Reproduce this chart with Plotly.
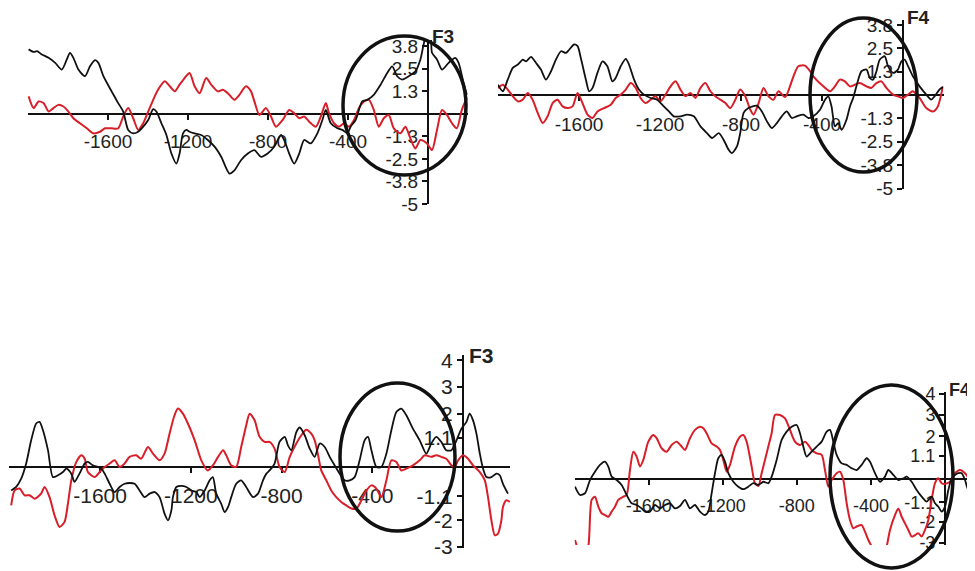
import plotly.graph_objects as go

# ---------------- data (time in ms, amplitude in µV) ----------------
p1_black_t = [-1997,-1972,-1955,-1931,-1897,-1864,-1831,-1806,-1790,-1773,-1748,-1715,-1690,-1665,-1648,-1623,-1582,-1549,-1524,-1499,-1474,-1449,-1424,-1399,-1374,-1358,-1333,-1308,-1283,-1258,-1242,-1225,-1208,-1192,-1167,-1134,-1101,-1067,-1034,-993,-968,-935,-901,-868,-835,-802,-769,-735,-719,-694,-669,-644,-619,-586,-553,-528,-511,-486,-453,-428,-403,-387,-362,-329,-304,-271,-237,-204,-179,-154,-129,-96,-63,-38,-22,-8,12,20,45,70,103,136,153,178,194]
p1_black_v = [3.58,3.44,3.48,3.30,3.11,2.83,2.46,3.02,3.39,3.11,2.46,2.09,2.64,2.98,2.83,2.09,1.25,0.60,0.13,-0.89,-1.08,-0.99,-0.71,-0.34,0.26,0.13,-0.52,-1.17,-2.20,-2.76,-2.20,-1.08,-0.89,-0.99,-1.08,-1.17,-1.45,-1.82,-2.38,-3.31,-3.13,-2.57,-2.20,-2.01,-2.38,-2.20,-1.82,-1.17,-1.45,-2.20,-2.76,-2.20,-1.45,-1.64,-1.08,-0.34,0.22,-0.52,-0.80,-0.89,-1.08,-0.71,-0.34,0.69,0.78,1.06,1.62,2.27,2.64,2.09,1.90,2.09,2.36,3.02,3.85,4.4,4.3,3.39,3.02,2.46,2.83,3.11,2.83,1.71,1.06]
p1_red_t = [-1997,-1972,-1947,-1922,-1897,-1873,-1848,-1823,-1798,-1773,-1740,-1706,-1673,-1640,-1615,-1582,-1549,-1524,-1499,-1474,-1449,-1424,-1399,-1374,-1350,-1316,-1291,-1266,-1242,-1217,-1192,-1167,-1142,-1109,-1084,-1051,-1026,-1001,-968,-943,-910,-885,-868,-843,-810,-785,-760,-727,-694,-669,-644,-619,-594,-561,-536,-511,-495,-470,-445,-420,-395,-370,-345,-320,-295,-271,-246,-221,-196,-171,-138,-113,-88,-63,-38,-5,20,45,70,95,120,144,169,194]
p1_red_v = [0.97,0.32,0.69,0.60,0.13,0.32,0.50,0.41,0.13,-0.24,-0.52,-0.80,-1.08,-0.99,-0.80,-0.80,-0.80,-0.15,0.32,-0.24,-0.89,-0.52,0.13,0.78,1.34,1.81,1.53,1.25,1.62,1.99,2.27,1.53,1.15,1.99,1.62,1.25,1.34,1.15,0.78,1.06,1.53,1.25,0.69,-0.06,0.32,-0.15,-0.71,-0.34,0.22,0.04,-0.24,-0.15,-0.43,-0.71,-0.15,0.60,0.04,-0.52,-0.71,-0.52,-0.71,-0.34,0.32,0.69,0.78,0.22,-0.71,-0.24,-0.06,-0.80,-1.08,-0.71,-1.36,-1.92,-1.45,-1.64,-2.01,-0.89,0.22,-0.06,-0.52,-0.80,0.22,0.88]

p2_black_t = [-2001,-1976,-1952,-1927,-1902,-1878,-1861,-1837,-1812,-1788,-1763,-1738,-1714,-1689,-1665,-1648,-1624,-1607,-1591,-1566,-1550,-1533,-1509,-1484,-1460,-1435,-1419,-1394,-1369,-1353,-1328,-1304,-1279,-1246,-1214,-1181,-1156,-1132,-1099,-1066,-1033,-1000,-968,-943,-910,-886,-861,-845,-820,-804,-787,-763,-722,-697,-672,-648,-623,-599,-574,-549,-525,-492,-467,-443,-410,-385,-369,-353,-336,-320,-303,-279,-262,-246,-221,-205,-180,-164,-148,-131,-115,-90,-74,-49,-25,-8,8,25,49,82,115,139,156,180,197]
p2_black_v = [0.55,0.20,0.82,1.45,1.63,1.89,1.80,2.04,1.71,1.36,0.82,1.27,1.89,2.34,2.25,2.43,2.70,2.61,1.98,0.82,0.20,0.38,1.18,1.80,1.54,0.73,0.91,1.54,1.93,1.63,0.82,0.29,0.02,-0.16,-0.25,-0.61,-0.88,-1.14,-1.14,-1.05,-1.14,-1.68,-2.04,-2.30,-2.04,-2.39,-2.93,-3.11,-2.75,-2.04,-0.96,-0.70,-0.57,-0.88,-1.41,-1.77,-1.50,-1.14,-0.88,-1.23,-1.14,-1.05,-1.23,-1.14,-0.79,-0.25,-0.07,-0.61,-1.68,-1.50,-1.86,-1.32,-0.61,-0.16,0.82,1.27,1.36,0.91,0.82,1.27,1.89,2.07,1.54,1.18,1.36,1.80,1.89,1.54,1.00,0.46,0.02,-0.25,-0.07,0.29,0.43]
p2_red_t = [-2001,-1976,-1952,-1927,-1902,-1878,-1853,-1829,-1804,-1779,-1755,-1730,-1706,-1681,-1656,-1632,-1607,-1583,-1558,-1533,-1509,-1476,-1443,-1419,-1394,-1369,-1345,-1320,-1296,-1271,-1246,-1222,-1197,-1173,-1148,-1123,-1099,-1074,-1050,-1025,-1000,-976,-951,-927,-902,-877,-853,-828,-804,-779,-754,-738,-713,-689,-664,-640,-615,-582,-541,-517,-484,-459,-443,-402,-361,-336,-312,-287,-262,-238,-213,-180,-156,-131,-107,-82,-49,-25,0,25,49,82,115,148,172,197]
p2_red_v = [0.38,0.55,0.29,-0.07,-0.34,-0.25,0.11,-0.25,-0.96,-1.50,-1.14,-0.43,-0.25,-0.61,-0.70,-0.61,0.11,-0.43,-1.05,-1.23,-0.88,-0.70,-0.52,-0.16,0.02,0.29,0.64,0.38,-0.16,-0.43,-0.25,-0.07,-0.34,0.02,0.46,0.73,0.29,-0.07,0.11,-0.16,0.38,0.64,0.20,-0.07,-0.25,-0.43,-0.70,-0.25,0.29,-0.07,-0.79,-1.05,-0.43,0.38,-0.07,-0.25,0.20,-0.11,1.00,1.54,1.57,1.27,1.00,0.55,0.20,0.46,0.82,0.73,0.46,0.55,0.64,0.46,0.38,0.64,0.73,0.38,0.02,-0.07,-0.16,0.02,0.20,-0.16,-0.70,-0.88,-0.61,0.46]

p3_black_t = [-1992,-1970,-1948,-1926,-1904,-1882,-1867,-1852,-1830,-1808,-1786,-1764,-1749,-1727,-1713,-1691,-1668,-1654,-1632,-1610,-1595,-1580,-1558,-1536,-1514,-1492,-1470,-1448,-1426,-1404,-1382,-1360,-1338,-1316,-1301,-1286,-1279,-1264,-1242,-1220,-1198,-1176,-1161,-1139,-1117,-1103,-1088,-1066,-1051,-1036,-1022,-1000,-978,-956,-926,-904,-882,-867,-853,-831,-809,-786,-772,-757,-735,-720,-698,-676,-654,-632,-610,-588,-566,-544,-522,-500,-478,-456,-434,-419,-404,-382,-360,-338,-316,-294,-272,-250,-221,-191,-162,-140,-118,-96,-74,-51,-29,-7,15,29,44,59,74,88,103,125,147,162,176,198]
p3_black_v = [-0.88,-0.75,-0.44,0.13,1.00,1.63,1.69,1.38,0.63,-0.38,-0.31,-0.19,-0.06,-0.25,-0.56,-0.25,0.13,0.19,0.06,0.00,-0.06,-0.25,-0.63,-0.94,-0.75,-0.63,-0.60,-0.63,-0.88,-1.13,-1.00,-0.94,-1.13,-1.75,-2.00,-1.63,-1.13,-0.75,-0.71,-0.75,-0.88,-0.94,-1.13,-0.88,-0.50,-0.38,-1.00,-1.38,-1.69,-1.50,-1.13,-0.63,-0.50,-0.75,-1.13,-1.00,-0.50,-0.25,-0.13,0.13,0.94,1.13,0.81,0.63,1.31,1.48,1.19,0.69,0.38,0.88,0.75,0.38,0.06,-0.25,-0.50,-0.50,-0.38,0.25,1.00,1.13,0.63,0.00,0.00,0.50,1.38,2.06,2.19,1.94,1.44,1.00,0.50,0.88,1.13,0.94,0.63,0.63,1.00,1.44,1.69,2.00,1.75,1.25,0.50,-0.06,-0.38,-0.38,-0.25,-0.31,-0.63,-1.00]
p3_red_t = [-1992,-1977,-1955,-1933,-1911,-1889,-1860,-1845,-1823,-1801,-1779,-1757,-1742,-1727,-1705,-1683,-1668,-1654,-1624,-1602,-1580,-1558,-1536,-1514,-1492,-1470,-1441,-1419,-1389,-1367,-1338,-1316,-1294,-1272,-1257,-1235,-1213,-1183,-1154,-1125,-1103,-1080,-1058,-1044,-1022,-1000,-978,-956,-941,-919,-897,-875,-853,-831,-809,-786,-764,-735,-713,-691,-669,-654,-639,-625,-603,-581,-559,-537,-515,-492,-470,-448,-426,-404,-382,-360,-338,-316,-294,-272,-250,-221,-191,-169,-140,-118,-96,-74,-51,-37,-22,0,22,44,74,96,110,125,140,154,169,176,191,206]
p3_red_v = [-1.44,-0.88,-0.81,-1.06,-1.06,-1.19,-1.00,-0.75,-1.13,-1.81,-2.25,-2.06,-1.38,-0.50,0.19,0.44,0.31,-0.19,-0.38,-0.19,0.00,0.13,0.25,0.00,0.13,0.38,0.44,0.31,0.75,0.50,0.25,0.50,1.25,1.94,2.19,2.00,1.63,1.00,0.25,-0.13,0.06,0.38,0.63,0.44,0.06,0.00,0.75,1.56,2.00,1.75,1.13,0.94,0.94,0.69,0.00,-0.19,0.38,0.88,1.19,1.40,1.25,1.00,0.44,-0.13,-0.50,-0.88,-1.13,-1.31,-1.44,-1.56,-1.56,-1.25,-0.88,-0.69,-0.81,-1.13,-0.50,0.25,0.19,-0.13,-0.06,0.06,0.25,0.44,0.38,0.44,0.38,0.31,0.06,0.00,0.25,0.44,0.31,0.06,-0.19,-0.50,-1.13,-2.00,-2.56,-2.50,-2.00,-1.50,-1.25,-1.31]

p4_black_t = [-1998,-1971,-1944,-1917,-1890,-1863,-1836,-1818,-1800,-1773,-1746,-1719,-1692,-1665,-1638,-1620,-1593,-1566,-1539,-1512,-1485,-1458,-1431,-1404,-1377,-1350,-1323,-1296,-1278,-1260,-1242,-1224,-1206,-1188,-1170,-1143,-1116,-1089,-1062,-1035,-1008,-981,-954,-936,-909,-882,-855,-828,-801,-783,-765,-747,-720,-693,-666,-639,-621,-603,-585,-558,-531,-504,-477,-450,-423,-405,-378,-351,-324,-306,-279,-252,-225,-207,-180,-153,-126,-99,-72,-54,-36,-18,0,18,36,54,72,90,108,126,153]
p4_black_v = [-0.36,-0.75,-0.67,-0.05,0.34,0.66,0.81,0.58,0.11,-0.05,-0.28,-0.75,-1.14,-1.22,-1.38,-1.53,-1.53,-1.22,-1.38,-1.22,-1.14,-1.38,-1.27,-0.98,-1.38,-1.22,-1.53,-1.69,-1.53,-0.67,0.27,0.97,1.13,0.81,0.27,-0.13,-0.36,-0.48,-0.36,-0.20,-0.28,-0.13,-0.20,0.11,0.89,1.83,2.22,2.45,2.53,2.14,1.52,1.05,1.28,1.52,1.75,2.22,2.30,1.75,1.13,0.73,0.66,0.50,0.42,0.66,0.97,0.81,0.27,-0.13,0.11,0.42,0.19,-0.05,0.03,0.11,-0.13,-0.52,-0.83,-1.06,-0.83,-1.14,-1.30,-1.53,-1.30,-0.52,0.03,0.19,0.27,0.27,-0.05,-0.52,-0.67]
p4_red_t = [-1998,-1980,-1953,-1926,-1908,-1890,-1872,-1854,-1836,-1818,-1800,-1782,-1764,-1737,-1719,-1701,-1683,-1665,-1647,-1629,-1602,-1575,-1557,-1530,-1503,-1476,-1449,-1422,-1404,-1377,-1350,-1323,-1305,-1287,-1260,-1233,-1215,-1197,-1179,-1161,-1134,-1107,-1089,-1071,-1044,-1026,-1008,-990,-972,-954,-936,-918,-891,-864,-837,-810,-783,-756,-738,-720,-693,-666,-648,-630,-612,-585,-567,-549,-531,-513,-495,-477,-450,-432,-414,-396,-369,-333,-315,-297,-270,-252,-234,-216,-198,-180,-162,-144,-126,-108,-90,-72,-54,-36,-18,0,27,54,81,108,135,162]
p4_red_v = [-2.86,-3.33,-3.80,-3.17,-0.98,-0.83,-1.30,-1.61,-1.69,-1.77,-1.53,-1.30,-0.98,-0.83,-0.75,0.42,1.28,1.05,0.58,0.89,1.75,2.06,1.91,1.44,1.28,1.59,1.75,1.52,1.36,1.91,2.30,2.45,2.38,2.14,1.67,1.52,1.36,0.89,0.34,0.66,1.52,1.98,2.06,1.75,0.58,-0.20,-0.33,0.27,0.89,1.52,2.14,3.00,3.00,2.84,2.30,1.75,1.59,1.75,1.59,1.36,1.20,1.13,0.42,-0.36,-0.05,0.27,0.34,-0.05,-1.14,-1.92,-2.31,-2.23,-2.16,-2.47,-2.86,-3.17,-3.80,-3.64,-3.17,-2.39,-1.69,-1.38,-1.77,-2.08,-2.39,-2.70,-2.63,-2.55,-2.70,-2.39,-1.92,-0.98,-0.20,0.03,-0.20,-0.23,-0.13,0.27,0.42,0.27,-0.05,-0.28]

x_tickvals = [-1600, -1200, -800, -400]
x_ticktext = ["-1600", "-1200", "-800", "-400"]
y_top_tickvals = [-5, -3.75, -2.5, -1.25, 1.25, 2.5, 3.75]
y_top_ticktext = ["-5", "-3.8", "-2.5", "-1.3", "1.3", "2.5", "3.8"]
y_bot_tickvals = [-3, -2, -1.1, 1.1, 2, 3, 4]
y_bot_ticktext = ["-3", "-2", "-1.1", "1.1", "2", "3", "4"]
panel_titles = ["F3", "F4", "F3", "F4"]

# ---------------- layout helpers (screen pixel -> paper) ----------------
# The page body has an 8 px margin, so the figure sits 8 px in from the top-left corner.
OFF = 8
W, H = 975 - OFF, 571 - OFF
def fx(px):
    return (px - OFF) / W
def fy(py):
    return 1 - (py - OFF) / H

BLACK = "#111111"
RED = "#d81e28"
FONT = "Arial, Liberation Sans, sans-serif"

panels = [
    dict(bt=p1_black_t, bv=p1_black_v, rt=p1_red_t, rv=p1_red_v,
         xdom=[fx(28), fx(468)], xr=[-2000, 200], ydom=[fy(204), fy(40)], yr=[-5, 4.1],
         ypos=fx(428), xpos=fy(114), ytv=y_top_tickvals, ytt=y_top_ticktext, fs=19, sto=5,
         title_xy=(430, 36), ell=(343, 466, 36, 175)),
    dict(bt=p2_black_t, bv=p2_black_v, rt=p2_red_t, rv=p2_red_v,
         xdom=[fx(498), fx(943.5)], xr=[-2000, 200], ydom=[fy(188.5), fy(20.2)], yr=[-5, 4.0],
         ypos=fx(903), xpos=fy(95), ytv=y_top_tickvals, ytt=y_top_ticktext, fs=19, sto=7,
         title_xy=(905, 18), ell=(810, 917, 18, 172)),
    dict(bt=p3_black_t, bv=p3_black_v, rt=p3_red_t, rv=p3_red_v,
         xdom=[fx(9.4), fx(510)], xr=[-2000, 207], ydom=[fy(548.3), fy(355)], yr=[-3.05, 4.2],
         ypos=fx(463), xpos=fy(467), ytv=y_bot_tickvals, ytt=y_bot_ticktext, fs=21, sto=5,
         title_xy=(467, 355), ell=(340, 455, 383, 531)),
    dict(bt=p4_black_t, bv=p4_black_v, rt=p4_red_t, rv=p4_red_v,
         xdom=[fx(574.6), 1.0], xr=[-2000, 162], ydom=[fy(545.1), fy(391.5)], yr=[-3.1, 4.1],
         ypos=fx(945), xpos=fy(479), ytv=y_bot_tickvals, ytt=y_bot_ticktext, fs=18, sto=5,
         title_xy=(947, 390), ell=(830, 953, 385, 568)),
]

fig = go.Figure()
layout = dict(width=W, height=H, margin=dict(l=0, r=0, t=0, b=0, autoexpand=False),
              paper_bgcolor="white", plot_bgcolor="white", showlegend=False,
              font=dict(family=FONT, color="#222"))
shapes, annotations = [], []

for i, p in enumerate(panels, start=1):
    xa = "x" if i == 1 else f"x{i}"
    ya = "y" if i == 1 else f"y{i}"
    fig.add_trace(go.Scatter(x=p["rt"], y=p["rv"], mode="lines", xaxis=xa, yaxis=ya,
                             line=dict(color=RED, width=2, shape="spline", smoothing=0.7),
                             hoverinfo="skip"))
    fig.add_trace(go.Scatter(x=p["bt"], y=p["bv"], mode="lines", xaxis=xa, yaxis=ya,
                             line=dict(color=BLACK, width=1.8, shape="spline", smoothing=0.7),
                             hoverinfo="skip"))
    sfx = "" if i == 1 else str(i)
    layout["xaxis" + sfx] = dict(domain=p["xdom"], range=p["xr"], anchor="free", position=p["xpos"],
                                 automargin=False,
                                 showline=True, linecolor=BLACK, linewidth=2, showgrid=False, zeroline=False,
                                 ticks="outside", ticklen=5, tickwidth=1.5, tickcolor=BLACK,
                                 tickvals=x_tickvals, ticktext=x_ticktext, ticklabelstandoff=p["sto"],
                                 tickfont=dict(size=p["fs"], family=FONT, color="#222"),
                                 layer="below traces", fixedrange=True)
    layout["yaxis" + sfx] = dict(domain=p["ydom"], range=p["yr"], anchor="free", position=p["ypos"],
                                 automargin=False,
                                 side="left", showline=True, linecolor=BLACK, linewidth=2, showgrid=False,
                                 zeroline=False, ticks="outside", ticklen=5, tickwidth=1.5, tickcolor=BLACK,
                                 tickvals=p["ytv"], ticktext=p["ytt"],
                                 tickfont=dict(size=p["fs"], family=FONT, color="#222"),
                                 layer="below traces", fixedrange=True)
    tx, ty = p["title_xy"]
    annotations.append(dict(text="<b>" + panel_titles[i - 1] + "</b>", x=fx(tx), y=fy(ty),
                            xref="paper", yref="paper", xanchor="left", yanchor="middle",
                            showarrow=False, font=dict(size=p["fs"], family=FONT, color="#222")))
    x0, x1, y0, y1 = p["ell"]
    shapes.append(dict(type="circle", xref="paper", yref="paper", x0=fx(x0), x1=fx(x1),
                       y0=fy(y1), y1=fy(y0), line=dict(color=BLACK, width=3.5)))

layout["shapes"] = shapes
layout["annotations"] = annotations
fig.update_layout(**layout)
fig.write_html("out.html")
